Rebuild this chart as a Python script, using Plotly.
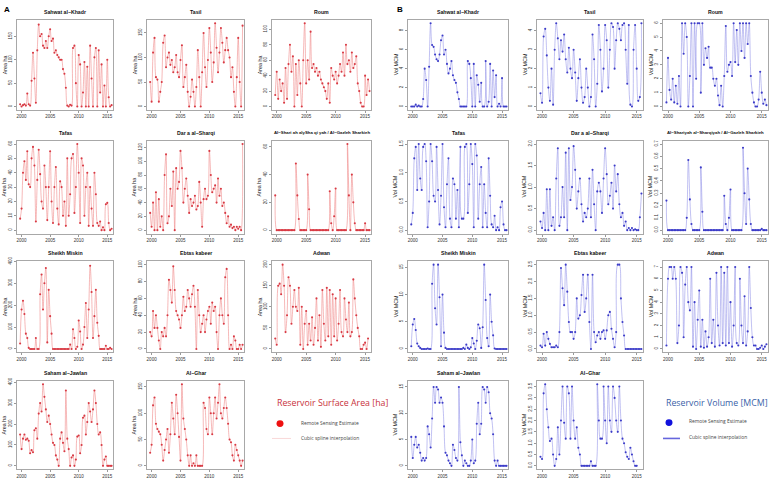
import plotly.graph_objects as go

# ---------------- DATA (quarterly estimates, first value at 1999.75) ----------------
T0 = 1999.75
STEP = 0.25
year_ticks = [2000, 2005, 2010, 2015]

titles_A = ["Sahwat al−Khadr", "Tasil", "Roum", "Tafas", "Dar a al−Sharqi",
            "Al−Shari ah alySha qi yah / Al−Gazleh Sharkieh", "Sheikh Miskin",
            "Ebtas kabeer", "Adwan", "Saham al−Jawlan", "Al−Ghar"]
titles_B = ["Sahwat al−Khadr", "Tasil", "Roum", "Tafas", "Dar a al−Sharqi",
            "Al−Shariyah al−Sharqiyah / Al−Gazleh Sharkieh", "Sheikh Miskin",
            "Ebtas kabeer", "Adwan", "Saham al−Jawlan", "Al−Ghar"]

area_sahwat = [5, 0, 3, 5, 2, 28, 5, 2, 55, 115, 60, 8, 120, 175, 150, 155, 130, 125, 140, 125, 150,
               165, 140, 145, 115, 120, 110, 105, 100, 100, 80, 70, 40, 2, 0, 4, 2, 125, 130, 50, 0,
               110, 90, 0, 30, 95, 0, 85, 0, 130, 60, 0, 105, 125, 0, 120, 30, 90, 0, 45, 0, 100, 20, 0, 3]
area_tasil = [50, 10, 110, 140, 60, 55, 10, 30, 50, 130, 145, 80, 100, 110, 85, 95, 70, 80, 105, 70, 60,
              95, 125, 40, 60, 85, 30, 0, 20, 55, 30, 0, 40, 115, 60, 0, 70, 150, 80, 40, 95, 160, 110,
              50, 90, 170, 120, 70, 110, 160, 130, 90, 115, 140, 115, 100, 60, 80, 30, 0, 60, 140, 50, 0, 165]
area_roum = [15, 45, 10, 35, 20, 30, 5, 50, 10, 55, 80, 45, 65, 0, 55, 15, 60, 30, 0, 60, 108, 30, 60,
             35, 97, 50, 55, 45, 50, 40, 45, 35, 30, 25, 20, 10, 30, 5, 50, 40, 35, 45, 30, 40, 55, 45,
             70, 40, 80, 55, 60, 45, 70, 50, 55, 65, 30, 20, 5, 0, 0, 40, 15, 35, 20]
area_tafas = [8, 15, 40, 48, 35, 55, 32, 30, 50, 58, 45, 6, 35, 56, 39, 20, 15, 45, 30, 7, 30, 55, 20, 5,
              30, 44, 15, 4, 34, 30, 10, 20, 3, 50, 10, 25, 50, 53, 12, 30, 60, 40, 5, 50, 45, 10, 30,
              40, 3, 30, 15, 3, 40, 25, 5, 3, 6, 0, 2, 0, 18, 19, 5, 0, 1]
area_dara = [25, 5, 40, 0, 55, 0, 45, 5, 20, 0, 80, 110, 10, 20, 60, 35, 85, 0, 90, 60, 70, 115, 90, 40,
             60, 75, 50, 25, 45, 35, 40, 50, 30, 35, 70, 40, 5, 45, 60, 45, 50, 115, 80, 55, 60, 65, 40,
             75, 50, 60, 35, 40, 25, 10, 20, 5, 8, 3, 5, 0, 5, 2, 5, 0, 125]
area_shariyah = [25, 0, 0, 0, 0, 0, 0, 0, 0, 0, 0, 0, 0, 0, 48, 25, 8, 0, 0, 0, 0, 0, 40, 15, 0, 0, 0, 0,
                 0, 0, 0, 0, 0, 0, 0, 0, 0, 28, 5, 0, 10, 30, 0, 0, 0, 0, 0, 0, 0, 62, 25, 0, 40, 20, 5,
                 0, 0, 0, 0, 0, 0, 5, 0, 0, 0]
area_sheikh = [25, 180, 220, 160, 70, 50, 5, 0, 0, 0, 0, 50, 0, 0, 250, 340, 180, 300, 370, 30, 270, 150,
               70, 0, 0, 0, 0, 0, 0, 0, 0, 0, 0, 0, 0, 20, 0, 90, 50, 0, 10, 130, 80, 0, 20, 100, 210, 50,
               180, 380, 260, 50, 150, 270, 120, 60, 0, 0, 0, 0, 15, 0, 0, 5, 0]
area_ebtas = [20, 15, 45, 25, 40, 25, 10, 0, 20, 15, 25, 15, 40, 82, 70, 55, 98, 70, 45, 40, 35, 25, 40,
              62, 45, 50, 70, 60, 50, 65, 75, 50, 0, 70, 40, 20, 30, 40, 20, 35, 45, 50, 30, 55, 45, 50,
              20, 0, 40, 60, 40, 30, 85, 95, 40, 0, 5, 0, 15, 10, 0, 0, 5, 0, 5]
area_adwan = [25, 10, 150, 155, 130, 200, 150, 40, 80, 170, 150, 60, 100, 140, 100, 90, 145, 10, 100, 0,
              60, 90, 10, 60, 20, 75, 10, 50, 120, 20, 80, 5, 140, 60, 20, 145, 30, 140, 10, 130, 30,
              120, 20, 60, 140, 40, 30, 120, 70, 40, 110, 30, 40, 165, 120, 80, 50, 30, 0, 0, 10, 15, 0, 25]
area_saham = [150, 80, 130, 150, 125, 130, 120, 60, 75, 65, 170, 180, 130, 250, 300, 260, 390, 330, 270,
              210, 240, 200, 150, 110, 100, 50, 30, 0, 130, 160, 110, 70, 360, 130, 80, 0, 40, 50, 0, 30,
              140, 145, 60, 100, 230, 240, 150, 210, 300, 260, 210, 270, 360, 300, 200, 150, 160, 100,
              0, 30, 45, 0, 0, 0, 0]
area_ghar = [25, 40, 115, 130, 80, 70, 65, 60, 40, 10, 30, 50, 70, 25, 60, 120, 90, 60, 135, 100, 55, 10,
             155, 90, 70, 50, 20, 0, 20, 0, 5, 0, 20, 0, 0, 0, 0, 120, 110, 70, 60, 130, 100, 60, 100,
             130, 90, 120, 155, 100, 90, 110, 130, 110, 80, 50, 45, 20, 10, 40, 30, 20, 10, 0, 10]

vol_sahwat = [0, 0, 0, 0.2, 0, 0.1, 0, 0, 0.8, 4.0, 2.8, 0, 4.2, 8.8, 6.5, 6.3, 5.5, 5.0, 4.8, 5.5, 7.0,
              7.5, 5.5, 6.0, 4.5, 3.5, 4.0, 4.8, 3.3, 2.8, 2.5, 1.5, 0.8, 0, 0, 0, 0, 0, 4.8, 4.5, 3.0,
              0, 4.5, 0, 3.3, 2.3, 0.5, 2.5, 0, 0, 4.8, 0, 0.5, 4.5, 0, 3.8, 1.0, 3.3, 0, 0.3, 0, 3.0, 0, 0, 0]
vol_tasil = [0.7, 0.2, 3.7, 4.1, 2.7, 1.0, 0.3, 2.0, 0.1, 3.0, 4.4, 3.6, 2.5, 3.5, 2.9, 3.8, 2.5, 1.8,
             3.1, 2.0, 1.5, 3.0, 1.8, 0.3, 1.5, 2.5, 1.0, 0.2, 0.5, 2.0, 1.0, 0, 0.5, 3.8, 2.5, 0, 1.2,
             4.3, 3.0, 0.8, 2.0, 4.3, 3.5, 1.0, 3.0, 4.4, 4.2, 2.0, 3.5, 4.4, 4.1, 3.5, 4.3, 4.4, 3.0,
             1.2, 4.3, 0.1, 0, 3.0, 4.3, 2.0, 0.3, 0.5, 4.4]
vol_roum = [0.3, 3.5, 1.2, 0.5, 2.0, 0.3, 1.5, 0.2, 2.2, 0, 6.0, 3.8, 6.0, 5.0, 0, 2.2, 6.0, 0, 6.0, 2.0,
            6.0, 6.0, 1.0, 6.0, 3.0, 4.2, 3.5, 4.3, 2.8, 2.8, 2.0, 1.5, 2.0, 0.8, 0.1, 1.5, 0, 2.2, 5.8,
            2.5, 3.0, 3.2, 2.2, 6.0, 3.2, 5.5, 3.0, 6.0, 4.0, 6.0, 3.5, 6.0, 4.5, 6.0, 2.2, 1.0, 0.3,
            0, 0, 0.5, 2.5, 1.0, 0.2, 0.5, 0.1]
vol_tafas = [0.1, 0.3, 1.25, 1.45, 0.7, 1.5, 0.9, 0.7, 1.45, 1.5, 1.2, 0.05, 0.5, 1.5, 1.2, 0.6, 0.5,
             1.45, 0.7, 0.1, 0.6, 1.5, 0.4, 0.05, 0.8, 1.25, 0.2, 0.05, 0.9, 0.8, 0.2, 0.7, 0.05, 1.45,
             0.2, 0.2, 1.45, 1.5, 0.3, 0.8, 1.5, 1.15, 0.05, 1.5, 1.3, 0.2, 0.8, 1.1, 0.05, 0.8, 0.3,
             0.05, 1.25, 0.6, 0.1, 0.05, 0.25, 0.0, 0.05, 0.0, 0.4, 0.5, 0.1, 0, 0]
vol_dara = [0.2, 0.05, 0.4, 0, 0.95, 0, 0.95, 0.1, 0.3, 0, 1.2, 1.9, 0.1, 0.3, 1.0, 0.3, 1.8, 0, 1.9, 0.7,
            1.0, 1.95, 1.4, 0.5, 0.9, 1.2, 0.6, 0.2, 0.4, 0.3, 0.5, 1.2, 0.3, 1.4, 0.6, 0.0, 0.9, 1.1,
            0.9, 0.4, 1.2, 1.9, 1.3, 0.6, 0.8, 1.1, 0.5, 1.5, 0.9, 1.3, 0.6, 0.3, 0.4, 0.1, 0.2, 0.0,
            0.05, 0.0, 0.05, 0.0, 0.02, 0.0, 0.0, 0.3, 0.85]
vol_shariyah = [0.24, 0, 0, 0, 0, 0, 0, 0, 0, 0, 0, 0, 0, 0.1, 0.57, 0.25, 0.05, 0, 0, 0, 0, 0, 0.51,
                0.15, 0, 0, 0, 0, 0, 0, 0, 0, 0, 0, 0, 0, 0, 0.28, 0.05, 0, 0.1, 0.33, 0, 0, 0, 0, 0, 0,
                0, 0.67, 0.3, 0.05, 0.5, 0.25, 0.05, 0, 0, 0, 0, 0, 0, 0.01, 0, 0, 0]
vol_sheikh = [0.5, 4.5, 5.5, 3.5, 1.0, 0.5, 0.2, 0, 0, 0, 0, 0.1, 0, 0, 12.0, 15.5, 7.5, 4.5, 15.5, 9.5,
              0.5, 10.0, 3.0, 0.2, 0, 0, 0, 0, 0, 0, 0, 0, 0, 0, 0, 0.2, 0, 0.8, 0.2, 0, 0.3, 2.0, 1.0,
              0, 1.5, 4.5, 3.8, 0.2, 4.0, 15.5, 9.0, 2.0, 0.5, 10.0, 5.0, 2.5, 0.1, 0, 0, 0, 0, 0, 0, 0, 0]
vol_ebtas = [0.1, 0.05, 0.45, 0.1, 0.5, 0.3, 0.15, 0.05, 0.05, 0.05, 0.1, 0.05, 0.5, 2.4, 1.8, 1.3, 2.5,
             1.7, 0.8, 0.5, 0.5, 0.3, 0.5, 1.5, 0.9, 1.0, 1.6, 2.2, 1.1, 1.5, 2.2, 0.8, 0, 2.2, 0.5, 0.2,
             0.4, 0.5, 0.3, 0.5, 0.55, 0.3, 0.55, 1.0, 1.1, 0.6, 0.3, 0.05, 0.5, 2.5, 2.5, 1.5, 0.8, 0.4,
             0.0, 0.0, 0.0, 0, 0, 0, 0, 0, 0, 0, 0]
vol_adwan = [0.3, 6.0, 7.0, 7.0, 6.0, 7.0, 6.0, 0.5, 2.0, 7.0, 6.5, 1.0, 5.5, 7.0, 4.0, 3.3, 7.0, 0.2,
             4.0, 0, 2.5, 5.0, 0.2, 2.5, 0.1, 1.5, 0.2, 1.0, 6.0, 0.5, 2.5, 0.2, 6.5, 2.0, 0.3, 7.0, 0.5,
             6.5, 0.3, 7.0, 0.5, 4.0, 0.2, 2.0, 7.0, 0.5, 0.3, 6.0, 2.0, 0.5, 4.5, 0.3, 1.5, 7.0, 3.5,
             1.0, 0.3, 0.3, 0, 0, 0.1, 0.3, 0, 0.2, 0.4]
vol_saham = [5.5, 1.5, 4.0, 5.5, 3.5, 4.0, 2.5, 1.0, 1.5, 1.0, 1.5, 7.5, 6.0, 3.5, 9.0, 15.0, 12.0, 15.0,
             14.5, 12.0, 13.0, 12.0, 7.5, 2.5, 2.0, 1.0, 0.5, 0, 4.0, 3.0, 1.5, 1.0, 15.0, 4.5, 2.0, 0,
             1.0, 0.5, 0, 0, 1.0, 5.0, 0.5, 1.0, 8.0, 12.0, 6.0, 8.0, 15.0, 14.5, 12.0, 15.0, 14.0, 10.0,
             9.0, 6.0, 1.0, 0.0, 1.0, 0.0, 0.0, 0.0, 0.0, 0.0, 0.0]
vol_ghar = [0.4, 0.3, 3.2, 3.6, 2.5, 1.7, 1.1, 1.2, 0.5, 0.0, 0.3, 1.7, 0.5, 2.0, 3.5, 1.9, 1.2, 3.5,
            3.2, 1.2, 3.5, 2.0, 1.2, 1.7, 0.8, 0.5, 0.0, 0.0, 0.0, 0.0, 0.0, 0.0, 0.2, 0.0, 0.0, 0.0,
            3.6, 2.0, 1.2, 1.2, 3.5, 2.0, 1.0, 3.5, 2.0, 1.5, 3.5, 3.0, 2.0, 1.5, 3.5, 2.0, 1.2, 1.0,
            0.6, 0.4, 0.3, 0.8, 0.5, 0.2, 0.0, 0.0]

area_series = [area_sahwat, area_tasil, area_roum, area_tafas, area_dara, area_shariyah,
               area_sheikh, area_ebtas, area_adwan, area_saham, area_ghar]
vol_series = [vol_sahwat, vol_tasil, vol_roum, vol_tafas, vol_dara, vol_shariyah,
              vol_sheikh, vol_ebtas, vol_adwan, vol_saham, vol_ghar]

area_ymax = [178, 170, 108, 60, 125, 62, 385, 100, 200, 390, 155]
area_dtick = [50, 50, 20, 10, 20, 20, 100, 20, 50, 100, 50]
vol_ymax = [8.8, 4.4, 6.0, 1.5, 2.0, 0.7, 15.5, 2.5, 7.2, 15.5, 3.6]
vol_dtick = [2, 1, 1, 0.5, 0.5, 0.1, 5, 0.5, 1, 5, 0.5]
vol_fmt = ["", "", "", ".1f", ".1f", ".1f", "", ".1f", "", "", ".1f"]

# ---------------- LAYOUT GEOMETRY (pixels) ----------------
W, H = 772, 480
cols_A = [(17, 113), (147, 244), (272, 371)]
cols_B = [(408, 508), (537, 643), (663, 768)]
rows = [(15, 106), (137, 231), (259, 351), (380, 469)]

RED_LINE = "rgba(238,130,130,0.7)"
RED_MK = "#d83a44"
BLUE_LINE = "rgba(125,125,228,0.6)"
BLUE_MK = "#3c3cc8"
FONT = "Liberation Sans, Arial, sans-serif"

fig = go.Figure()
annotations = []
layout_axes = {}


def add_panel(k, series, cols, idx, title, ytitle, ymax, dtick, fmt, lc, mc):
    r, c = divmod(idx, 3)
    l, rr = cols[c]
    t, b = rows[r]
    xs = [T0 + STEP * i for i in range(len(series))]
    xn = "x" if k == 1 else f"x{k}"
    yn = "y" if k == 1 else f"y{k}"
    fig.add_trace(go.Scatter(
        x=xs, y=series, xaxis=xn, yaxis=yn, mode="lines+markers",
        line=dict(color=lc, width=0.8, shape="spline", smoothing=1.0),
        marker=dict(color=mc, size=2.1, symbol="circle"),
        showlegend=False, hoverinfo="x+y"))
    common = dict(showline=True, mirror=True, linecolor="#a8a8a8", linewidth=1,
                  showgrid=False, zeroline=False, ticks="outside", ticklen=2,
                  tickcolor="#999999", tickfont=dict(size=4.5, color="#333333", family=FONT))
    ax_key = "xaxis" if k == 1 else f"xaxis{k}"
    ay_key = "yaxis" if k == 1 else f"yaxis{k}"
    layout_axes[ax_key] = dict(domain=[l / W, rr / W], anchor=yn, range=[1999.2, 2016.0],
                               tickvals=year_ticks, **common)
    ydict = dict(domain=[1 - b / H, 1 - t / H], anchor=xn,
                 range=[-0.04 * ymax, 1.04 * ymax], dtick=dtick, tick0=0,
                 tickangle=-90, **common)
    if fmt:
        ydict["tickformat"] = fmt
    layout_axes[ay_key] = ydict
    tsize = 4.3 if len(title) > 30 else 5.2
    annotations.append(dict(x=(l + rr) / 2 / W, y=1 - (t - 8) / H, xref="paper", yref="paper",
                            text=f"<b>{title}</b>", showarrow=False,
                            font=dict(size=tsize, family=FONT, color="#111111"),
                            xanchor="center", yanchor="middle"))
    annotations.append(dict(x=(l - 12.5) / W, y=1 - (t + b) / 2 / H, xref="paper", yref="paper",
                            text=ytitle, showarrow=False, textangle=-90,
                            font=dict(size=5.4, family=FONT, color="#222222"),
                            xanchor="center", yanchor="middle"))


k = 1
for i in range(11):
    add_panel(k, area_series[i], cols_A, i, titles_A[i], "Area ha",
              area_ymax[i], area_dtick[i], "", RED_LINE, RED_MK)
    k += 1
for i in range(11):
    add_panel(k, vol_series[i], cols_B, i, titles_B[i], "Vol MCM",
              vol_ymax[i], vol_dtick[i], vol_fmt[i], BLUE_LINE, BLUE_MK)
    k += 1

# panel letters
for txt, px in [("A", 2), ("B", 395)]:
    annotations.append(dict(x=px / W, y=1 - 5 / H, xref="paper", yref="paper", text=f"<b>{txt}</b>",
                            showarrow=False, xanchor="left", yanchor="middle",
                            font=dict(size=8, family=FONT, color="#000000")))


def P(px, py):
    return px / W, 1 - py / H


leg = [
    (275, 402, "Reservoir Surface Area [ha]", 8.8, "#c8323c"),
    (299, 422, "Remote Sensing Estimate", 4.9, "#444444"),
    (299, 438, "Cubic spline interpolation", 4.9, "#444444"),
    (664, 402, "Reservoir Volume [MCM]", 8.8, "#3a5fa8"),
    (687, 420, "Remote Sensing Estimate", 4.9, "#444444"),
    (687, 437, "Cubic spline interpolation", 4.9, "#444444"),
]
for px, py, txt, sz, col in leg:
    x, y = P(px, py)
    annotations.append(dict(x=x, y=y, xref="paper", yref="paper", text=txt, showarrow=False,
                            xanchor="left", yanchor="middle",
                            font=dict(size=sz, family="Open Sans, Lato, sans-serif", color=col)))

shapes = []
for cx, cy, col in [(280, 423, "#ee1111"), (669, 422, "#1111dd")]:
    shapes.append(dict(type="circle", xref="paper", yref="paper",
                       x0=(cx - 3.5) / W, x1=(cx + 3.5) / W, y0=1 - (cy + 3.5) / H, y1=1 - (cy - 3.5) / H,
                       fillcolor=col, line=dict(width=0)))
for x0, x1, col, wd, yy in [(272, 291, "rgba(240,170,170,0.6)", 0.8, 438),
                            (663, 680, "#6666dd", 1.6, 438)]:
    shapes.append(dict(type="line", xref="paper", yref="paper", x0=x0 / W, x1=x1 / W,
                       y0=1 - yy / H, y1=1 - yy / H, line=dict(color=col, width=wd)))

fig.update_layout(width=W, height=H, margin=dict(l=0, r=0, t=0, b=0),
                  paper_bgcolor="white", plot_bgcolor="white",
                  annotations=annotations, shapes=shapes, **layout_axes)

fig.write_html("out.html", config={"displayModeBar": False},
               post_script="document.body.style.margin='0';document.body.style.padding='0';")
